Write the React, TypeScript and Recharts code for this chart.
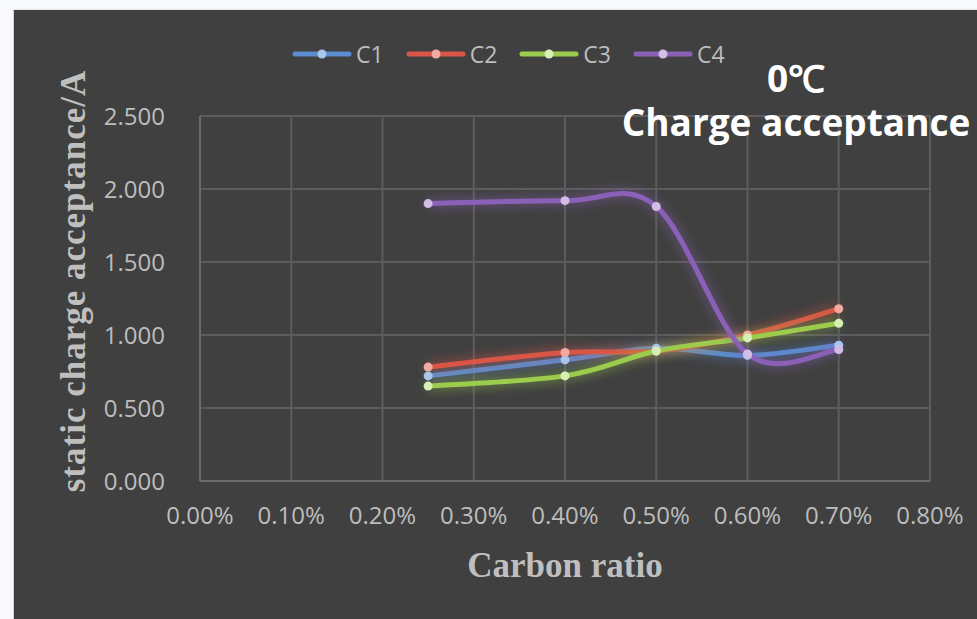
import React from 'react';
import { CartesianGrid, Line, LineChart, XAxis, YAxis } from 'recharts';

const carbonRatio = [0.25, 0.4, 0.5, 0.6, 0.7];
const c1 = [0.72, 0.83, 0.91, 0.86, 0.93];
const c2 = [0.78, 0.88, 0.89, 1.0, 1.18];
const c3 = [0.65, 0.72, 0.89, 0.98, 1.08];
const c4 = [1.9, 1.92, 1.88, 0.87, 0.9];

const xTicks = [0, 0.1, 0.2, 0.3, 0.4, 0.5, 0.6, 0.7, 0.8];
const yTicks = [0, 0.5, 1, 1.5, 2, 2.5];

const series = [
  { key: 'C1', color: '#5a8ccf', dot: '#a9c5ea', glow: 'rgba(90,140,207,0.8)' },
  { key: 'C2', color: '#d95545', dot: '#f2aaa0', glow: 'rgba(217,85,69,0.8)' },
  { key: 'C3', color: '#9ccc4e', dot: '#d6efb3', glow: 'rgba(156,204,78,0.8)' },
  { key: 'C4', color: '#8b61b8', dot: '#d1bde6', glow: 'rgba(139,97,184,0.8)' },
];

const data = carbonRatio.map((x, i) => ({
  x,
  C1: c1[i],
  C2: c2[i],
  C3: c3[i],
  C4: c4[i],
}));

// Excel-like smoothed line (Catmull-Rom through every point)
const smoothCurve = (context: any) => {
  let pts: number[][] = [];
  return {
    areaStart() {},
    areaEnd() {},
    lineStart() {
      pts = [];
    },
    point(x: number, y: number) {
      pts.push([+x, +y]);
    },
    lineEnd() {
      if (!pts.length) return;
      context.moveTo(pts[0][0], pts[0][1]);
      for (let i = 0; i < pts.length - 1; i++) {
        const p0 = pts[i - 1] || pts[i];
        const p1 = pts[i];
        const p2 = pts[i + 1];
        const p3 = pts[i + 2] || p2;
        context.bezierCurveTo(
          p1[0] + (p2[0] - p0[0]) / 6,
          p1[1] + (p2[1] - p0[1]) / 6,
          p2[0] - (p3[0] - p1[0]) / 6,
          p2[1] - (p3[1] - p1[1]) / 6,
          p2[0],
          p2[1],
        );
      }
    },
  };
};

const tickStyle = { fill: '#bdbdbd', fontSize: 24, fontFamily: 'Open Sans' };
const serif = {
  fontFamily: '"Liberation Serif", "Times New Roman", serif',
  fontWeight: 700,
  fontSize: 35,
  color: '#bfbfbf',
  lineHeight: 1,
  whiteSpace: 'nowrap' as const,
};

const App: React.FC = () => {
  return (
    <div
      style={{
        position: 'absolute',
        left: 0,
        top: 0,
        width: 977,
        height: 619,
        background: '#f7f9fc',
        overflow: 'hidden',
      }}
    >
      <style>
        {series
          .map((s) => `.glow-${s.key} { filter: drop-shadow(0 0 6px ${s.glow}); }`)
          .join('\n')}
      </style>
      <div
        style={{
          position: 'absolute',
          left: 13,
          top: 9,
          right: 0,
          bottom: 0,
          background: '#404040',
          borderLeft: '1px solid #cfd3d8',
          borderTop: '1px solid #e2e5ea',
        }}
      />
      <LineChart
        width={977}
        height={619}
        data={data}
        style={{ position: 'absolute', left: 0, top: 0 }}
        margin={{ top: 116, right: 47, bottom: 78, left: 140 }}
      >
        <CartesianGrid stroke="#5c5c5c" strokeWidth={2} />
        <XAxis
          dataKey="x"
          type="number"
          domain={[0, 0.8]}
          ticks={xTicks}
          tickFormatter={(v: number) => `${v.toFixed(2)}%`}
          height={60}
          tickSize={0}
          tickMargin={26}
          tickLine={false}
          axisLine={{ stroke: '#6c6c6c', strokeWidth: 2 }}
          tick={tickStyle}
          interval={0}
        />
        <YAxis
          type="number"
          domain={[0, 2.5]}
          ticks={yTicks}
          tickFormatter={(v: number) => v.toFixed(3)}
          width={60}
          tickSize={0}
          tickMargin={35}
          tickLine={false}
          axisLine={{ stroke: '#6c6c6c', strokeWidth: 2 }}
          tick={tickStyle}
          interval={0}
        />
        {series.map((s) => (
          <Line
            key={s.key}
            dataKey={s.key}
            type={smoothCurve as any}
            stroke={s.color}
            strokeWidth={5}
            className={`glow-${s.key}`}
            dot={{ r: 4.5, fill: s.dot, stroke: 'none', strokeWidth: 0 }}
            activeDot={false}
            isAnimationActive={false}
          />
        ))}
      </LineChart>

      {/* legend */}
      <div
        style={{
          position: 'absolute',
          left: 292,
          top: 38,
          display: 'flex',
          gap: 22,
          alignItems: 'center',
          fontFamily: 'Open Sans',
          fontSize: 23,
          color: '#bdbdbd',
          lineHeight: '32px',
        }}
      >
        {series.map((s) => (
          <div key={s.key} style={{ display: 'flex', alignItems: 'center', gap: 4 }}>
            <svg width={60} height={12}>
              <line
                x1={3}
                y1={6}
                x2={57}
                y2={6}
                stroke={s.color}
                strokeWidth={5}
                strokeLinecap="round"
              />
              <circle cx={30} cy={6} r={4.5} fill={s.dot} />
            </svg>
            <span>{s.key}</span>
          </div>
        ))}
      </div>

      {/* title */}
      <div
        style={{
          position: 'absolute',
          left: 596,
          top: 56,
          width: 400,
          textAlign: 'center',
          fontFamily: 'Open Sans',
          fontWeight: 700,
          fontSize: 37,
          lineHeight: '44px',
          color: '#ffffff',
          whiteSpace: 'nowrap',
        }}
      >
        <div>0℃</div>
        <div>Charge acceptance</div>
      </div>

      {/* axis titles */}
      <div
        style={{
          ...serif,
          position: 'absolute',
          left: 73,
          top: 281,
          letterSpacing: 1,
          transform: 'translate(-50%, -50%) rotate(-90deg)',
        }}
      >
        static charge acceptance/A
      </div>
      <div
        style={{
          ...serif,
          position: 'absolute',
          left: 365,
          top: 548,
          width: 400,
          textAlign: 'center',
        }}
      >
        Carbon ratio
      </div>
    </div>
  );
};

export default App;
